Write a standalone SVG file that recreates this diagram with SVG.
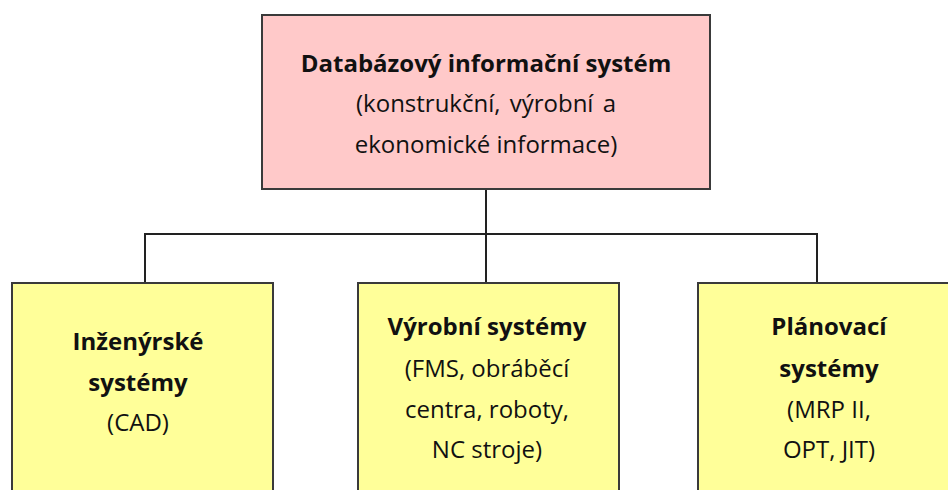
<svg xmlns="http://www.w3.org/2000/svg" width="948" height="490" viewBox="0 0 948 490">
  <style>
    .box { stroke: #3a3a3a; stroke-width: 2; }
    .root { fill: #ffc9c9; }
    .leaf { fill: #ffff99; }
    .wire { fill: none; stroke: #222; stroke-width: 2; }
    text { font-family: "Open Sans", "Liberation Sans", sans-serif; font-size: 24px; fill: #111; text-anchor: middle; }
    .b { font-weight: bold; }
  </style>
  <rect width="948" height="490" fill="#ffffff"/>

  <g id="connectors">
    <path class="wire" d="M486 189 V283"/>
    <path class="wire" d="M145 283 V234 H817 V283"/>
  </g>

  <g id="node-database">
    <rect class="box root" x="262" y="15" width="448" height="174"/>
    <text class="b" x="486" y="72">Databázový informační systém</text>
    <text x="486" y="112" word-spacing="3">(konstrukční, výrobní a</text>
    <text x="486" y="153">ekonomické informace)</text>
  </g>

  <g id="node-engineering">
    <rect class="box leaf" x="12" y="283" width="261" height="215"/>
    <text class="b" x="138" y="350">Inženýrské</text>
    <text class="b" x="138" y="391">systémy</text>
    <text x="138" y="431">(CAD)</text>
  </g>

  <g id="node-production">
    <rect class="box leaf" x="358" y="283" width="261" height="215"/>
    <text class="b" x="487" y="335">Výrobní systémy</text>
    <text x="487" y="377">(FMS, obráběcí</text>
    <text x="487" y="418">centra, roboty,</text>
    <text x="487" y="458">NC stroje)</text>
  </g>

  <g id="node-planning">
    <rect class="box leaf" x="698" y="283" width="264" height="215"/>
    <text class="b" x="829" y="335">Plánovací</text>
    <text class="b" x="829" y="377">systémy</text>
    <text x="829" y="418">(MRP II,</text>
    <text x="829" y="458">OPT, JIT)</text>
  </g>
</svg>
